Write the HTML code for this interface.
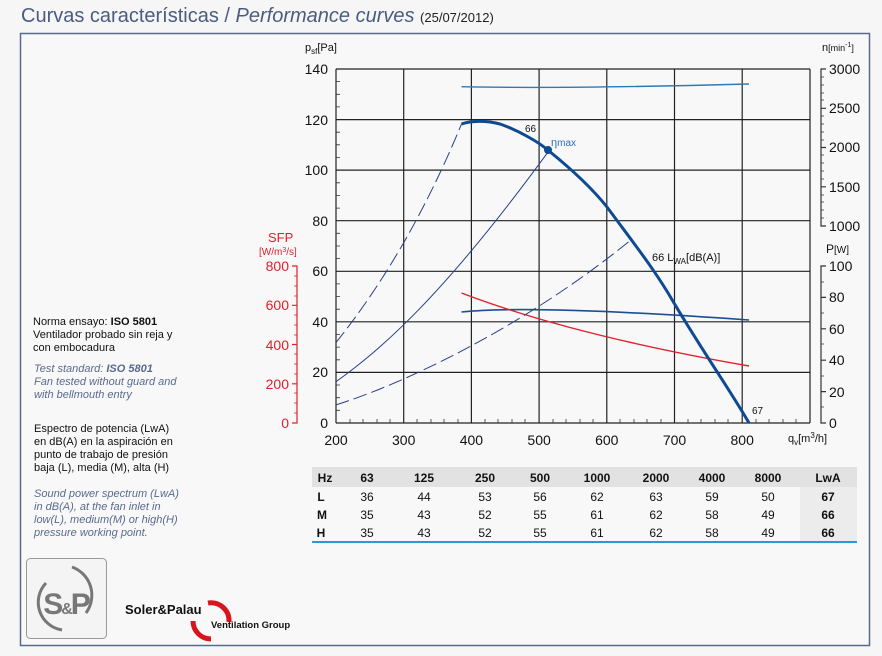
<!DOCTYPE html>
<html><head><meta charset="utf-8"><style>
html,body{margin:0;padding:0;background:#f6f6f6;}
svg{display:block;font-family:"Liberation Sans",sans-serif;}
</style></head><body>
<svg width="882" height="656" viewBox="0 0 882 656" xmlns="http://www.w3.org/2000/svg">
<rect width="882" height="656" fill="#f6f6f6"/>
<text x="21" y="22" font-size="20" fill="#4b5c80">Curvas características / <tspan font-style="italic">Performance curves</tspan> <tspan font-size="13" fill="#222">(25/07/2012)</tspan></text>
<rect x="20.5" y="33.5" width="849" height="612" fill="#f8f8f8" stroke="#5a6a8a" stroke-width="1.5"/>

<g font-size="11" fill="#111">
<text x="33" y="325">Norma ensayo: <tspan font-weight="bold">ISO 5801</tspan></text>
<text x="33" y="338">Ventilador probado sin reja y</text>
<text x="33" y="351">con embocadura</text>
<g fill="#5a6a8e" font-style="italic">
<text x="34" y="372">Test standard: <tspan font-weight="bold">ISO 5801</tspan></text>
<text x="34" y="385">Fan tested without guard and</text>
<text x="34" y="398">with bellmouth entry</text>
</g>
<text x="34" y="432">Espectro de potencia (LwA)</text>
<text x="34" y="445">en dB(A) en la aspiración en</text>
<text x="34" y="458">punto de trabajo de presión</text>
<text x="34" y="471">baja (L), media (M), alta (H)</text>
<g fill="#5a6a8e" font-style="italic">
<text x="34" y="497">Sound power spectrum (LwA)</text>
<text x="34" y="510">in dB(A), at the fan inlet in</text>
<text x="34" y="523">low(L), medium(M) or high(H)</text>
<text x="34" y="536">pressure working point.</text>
</g>
</g>

<g stroke="#222" stroke-width="1.2">
<line x1="336" y1="69" x2="810" y2="69"/>
<line x1="336" y1="119.6" x2="810" y2="119.6"/>
<line x1="336" y1="170.1" x2="810" y2="170.1"/>
<line x1="336" y1="220.7" x2="810" y2="220.7"/>
<line x1="336" y1="271.3" x2="810" y2="271.3"/>
<line x1="336" y1="321.8" x2="810" y2="321.8"/>
<line x1="336" y1="372.4" x2="810" y2="372.4"/>
<line x1="336" y1="423" x2="810" y2="423"/>
<line x1="336" y1="69" x2="336" y2="423"/>
<line x1="403.7" y1="69" x2="403.7" y2="423"/>
<line x1="471.4" y1="69" x2="471.4" y2="423"/>
<line x1="539.1" y1="69" x2="539.1" y2="423"/>
<line x1="606.8" y1="69" x2="606.8" y2="423"/>
<line x1="674.5" y1="69" x2="674.5" y2="423"/>
<line x1="742.2" y1="69" x2="742.2" y2="423"/>
<line x1="810" y1="69" x2="810" y2="423"/>
</g>
<g stroke="#333" stroke-width="0.8">
<path d="M336,81.6h4M336,94.3h4M336,106.9h4M336,132.2h4M336,144.8h4M336,157.5h4M336,182.8h4M336,195.4h4M336,208.1h4M336,233.3h4M336,246h4M336,258.6h4M336,283.9h4M336,296.5h4M336,309.2h4M336,334.5h4M336,347.1h4M336,359.8h4M336,385h4M336,397.7h4M336,410.3h4"/>
<path d="M350,423v-4M363,423v-4M377,423v-4M390,423v-4M417,423v-4M431,423v-4M444,423v-4M458,423v-4M485,423v-4M498,423v-4M512,423v-4M525,423v-4M553,423v-4M566,423v-4M580,423v-4M593,423v-4M620,423v-4M634,423v-4M647,423v-4M661,423v-4M688,423v-4M701,423v-4M715,423v-4M728,423v-4M756,423v-4M769,423v-4M783,423v-4M796,423v-4"/>
</g>
<g font-size="14" fill="#111" text-anchor="end">
<text x="328" y="74">140</text><text x="328" y="125">120</text><text x="328" y="175">100</text>
<text x="328" y="226">80</text><text x="328" y="276">60</text><text x="328" y="327">40</text>
<text x="328" y="377">20</text><text x="328" y="428">0</text>
</g>
<g font-size="14" fill="#111" text-anchor="middle">
<text x="336" y="445">200</text><text x="403.7" y="445">300</text><text x="471.4" y="445">400</text>
<text x="539.1" y="445">500</text><text x="606.8" y="445">600</text><text x="674.5" y="445">700</text>
<text x="742.2" y="445">800</text>
</g>
<text x="788" y="442" font-size="11" fill="#111">q<tspan font-size="8" dy="3">v</tspan><tspan dy="-3">[m</tspan><tspan font-size="8" dy="-4">3</tspan><tspan dy="4">/h]</tspan></text>
<text x="305" y="51" font-size="11" fill="#111">p<tspan font-size="8" dy="3">sf</tspan><tspan dy="-3">[Pa]</tspan></text>

<g stroke="#333" stroke-width="1.2" fill="none">
<path d="M826,69h-5v157h5"/>
<path d="M826,266h-5v157h5"/>
<path d="M821,108.3h5M821,147.5h5M821,186.8h5M821,297.4h5M821,328.8h5M821,360.2h5M821,391.6h5"/>
</g>
<g stroke="#333" stroke-width="0.7">
<path d="M821,77h3M821,85h3M821,93h3M821,100h3M821,116h3M821,124h3M821,132h3M821,140h3M821,155h3M821,163h3M821,171h3M821,179h3M821,195h3M821,202h3M821,210h3M821,218h3"/>
<path d="M821,282h3M821,313h3M821,344h3M821,376h3M821,407h3"/>
</g>
<g font-size="14" fill="#111">
<text x="829" y="74">3000</text><text x="829" y="113">2500</text><text x="829" y="152">2000</text>
<text x="829" y="192">1500</text><text x="829" y="231">1000</text>
<text x="829" y="271">100</text><text x="829" y="302">80</text><text x="829" y="334">60</text>
<text x="829" y="365">40</text><text x="829" y="397">20</text><text x="829" y="428">0</text>
</g>
<text x="822" y="51" font-size="11" fill="#111">n<tspan font-size="9">[min</tspan><tspan font-size="7" dy="-4">-1</tspan><tspan font-size="9" dy="4">]</tspan></text>
<text x="826" y="253" font-size="12" fill="#111">P<tspan font-size="10">[W]</tspan></text>

<g stroke="#e0202a" stroke-width="1.2" fill="none">
<path d="M292,266h5v157h-5"/>
<path d="M292,305.3h5M292,344.5h5M292,383.8h5"/>
</g>
<g stroke="#e0202a" stroke-width="0.7">
<path d="M297,276h-3M297,286h-3M297,296h-3M297,315h-3M297,325h-3M297,335h-3M297,354h-3M297,364h-3M297,374h-3M297,393h-3M297,403h-3M297,413h-3"/>
</g>
<g font-size="14" fill="#e0202a" text-anchor="end">
<text x="289" y="271">800</text><text x="289" y="310">600</text><text x="289" y="350">400</text>
<text x="289" y="389">200</text><text x="289" y="428">0</text>
</g>
<text x="268" y="242" font-size="13" fill="#e0202a">SFP</text>
<text x="259" y="255" font-size="10" fill="#e0202a">[W/m<tspan font-size="7" dy="-3">3</tspan><tspan dy="3">/s]</tspan></text>

<g fill="none">
<path d="M461.5,86.7 Q560,89 749,84" stroke="#2e7ab5" stroke-width="1.4"/>
<path d="M461.5,312 C500,308 580,308 749,320" stroke="#1d4e96" stroke-width="1.6"/>
<path d="M461.5,293 C540,323 640,347 749,366" stroke="#e0202a" stroke-width="1.4"/>
<path d="M335.6,343 Q409,251.5 461.5,124" stroke="#2a3f8a" stroke-width="1" stroke-dasharray="14,5"/>
<path d="M335.6,382 C380,350 440,300 549,150.7" stroke="#2a3f8a" stroke-width="1"/>
<path d="M335.6,405 C400,385 520,330 630,240.7" stroke="#2a3f8a" stroke-width="1" stroke-dasharray="14,5"/>
<path d="M461.5,124 C470,121 485,120 500,124 C520,131 540,143 549,151 C575,172 595,192 607,207 C635,245 655,270 674,303 C705,355 730,390 749,423" stroke="#0d4a92" stroke-width="3"/>
</g>
<circle cx="548" cy="150" r="4" fill="#0d4a92"/>
<text x="525" y="132" font-size="10" fill="#111">66</text>
<text x="551" y="146" font-size="11" fill="#2e6fb5">η<tspan font-size="10">max</tspan></text>
<text x="652" y="261" font-size="11" fill="#111">66 L<tspan font-size="8" dy="3">WA</tspan><tspan dy="-3">[dB(A)]</tspan></text>
<text x="752" y="414" font-size="10" fill="#111">67</text>

<rect x="312" y="467" width="545" height="20" fill="#e2e2e2"/>
<rect x="800" y="487" width="57" height="55" fill="#ececec"/>
<line x1="312" y1="542" x2="857" y2="542" stroke="#2a9ad4" stroke-width="2"/>
<g font-size="12" fill="#111" text-anchor="middle">
<g font-weight="bold">
<text x="325" y="482">Hz</text><text x="367" y="482">63</text><text x="424" y="482">125</text>
<text x="485" y="482">250</text><text x="540" y="482">500</text><text x="597" y="482">1000</text>
<text x="656" y="482">2000</text><text x="712" y="482">4000</text><text x="768" y="482">8000</text>
<text x="828" y="482">LwA</text>
<text x="321" y="501">L</text><text x="322" y="519">M</text><text x="321" y="537">H</text>
<text x="828" y="501">67</text><text x="828" y="519">66</text><text x="828" y="537">66</text>
</g>
<text x="367" y="501">36</text><text x="424" y="501">44</text><text x="485" y="501">53</text><text x="540" y="501">56</text><text x="597" y="501">62</text><text x="656" y="501">63</text><text x="712" y="501">59</text><text x="768" y="501">50</text>
<text x="367" y="519">35</text><text x="424" y="519">43</text><text x="485" y="519">52</text><text x="540" y="519">55</text><text x="597" y="519">61</text><text x="656" y="519">62</text><text x="712" y="519">58</text><text x="768" y="519">49</text>
<text x="367" y="537">35</text><text x="424" y="537">43</text><text x="485" y="537">52</text><text x="540" y="537">55</text><text x="597" y="537">61</text><text x="656" y="537">62</text><text x="712" y="537">58</text><text x="768" y="537">49</text>
</g>

<rect x="26.5" y="558.5" width="80" height="80" rx="4" fill="#f4f4f4" stroke="#999"/>
<path d="M46,583 A28,28 0 0 0 62,630" fill="none" stroke="#777" stroke-width="3"/>
<path d="M72,567 A30,30 0 0 1 86,613" fill="none" stroke="#777" stroke-width="3"/>
<text x="66" y="614" font-size="30" font-weight="bold" fill="#777" text-anchor="middle" letter-spacing="-2">S<tspan font-size="16">&amp;</tspan>P</text>
<text x="125" y="614" font-size="13" font-weight="bold" fill="#111">Soler&amp;Palau</text>
<path d="M208,603 A18,18 0 0 1 229,622" fill="none" stroke="#d8141e" stroke-width="5"/>
<path d="M193,621 A18,18 0 0 0 211,639" fill="none" stroke="#d8141e" stroke-width="5"/>
<text x="211" y="628" font-size="9.5" font-weight="bold" fill="#111">Ventilation Group</text>
</svg>
</body></html>
